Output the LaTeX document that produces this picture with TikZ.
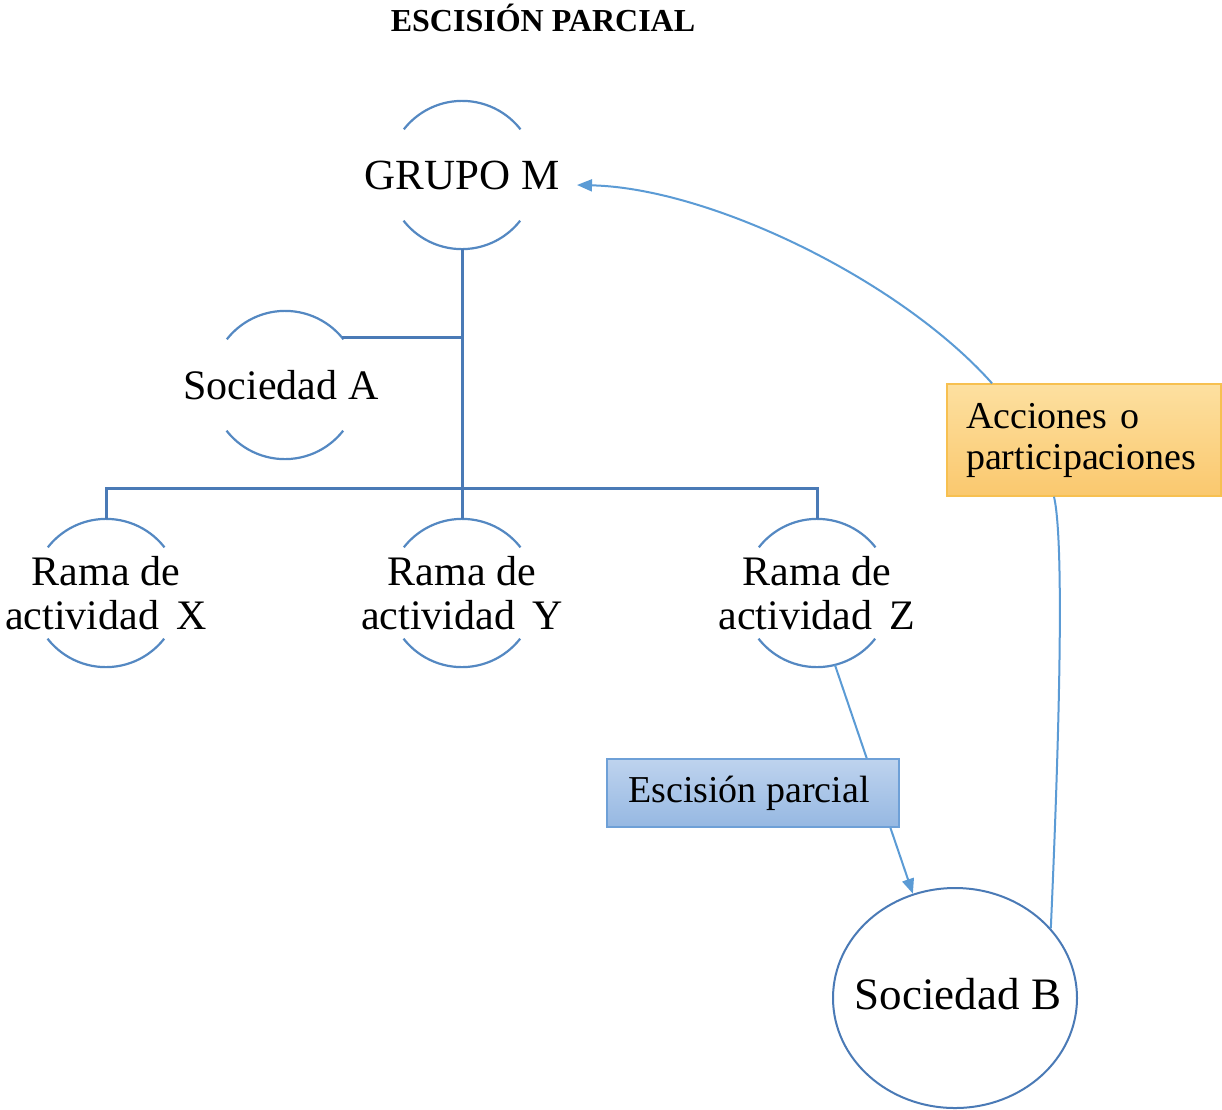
\documentclass[tikz,border=0pt]{standalone}
\usepackage{fontspec}
\setmainfont{Liberation Serif}
\usetikzlibrary{arrows.meta,shapes.geometric}
\definecolor{treecol}{RGB}{74,122,182}
\definecolor{arccol}{RGB}{84,136,194}
\definecolor{arrcol}{RGB}{91,155,213}
\definecolor{bluetop}{RGB}{190,211,238}
\definecolor{bluebot}{RGB}{150,184,226}
\definecolor{blueedge}{RGB}{110,160,215}
\definecolor{ortop}{RGB}{253,224,160}
\definecolor{orbot}{RGB}{250,200,110}
\definecolor{oredge}{RGB}{247,192,80}
\begin{document}
\begin{tikzpicture}[x=1pt,y=-1pt,
  circ/.style={circle,minimum size=148pt,inner sep=0pt,draw=none},
  txt/.style={font=\fontsize{42}{44}\selectfont,align=center,inner sep=0pt},
  arcline/.style={draw=arccol,line width=2.2pt},
  treeline/.style={draw=treecol,line width=3pt},
  arr/.style={draw=arrcol,line width=2pt,-{Triangle[length=15pt,width=12pt]}},
  conn/.style={draw=arrcol,line width=2pt}]
\useasboundingbox[fill=white] (0,0) rectangle (1222,1109);
\node[font=\bfseries\fontsize{32}{34}\selectfont] (title) at (543,18) {ESCISIÓN PARCIAL};

% circles (open arcs)
\node[circ] (gm) at (462,175) {};
\node[txt,font=\fontsize{43}{45}\selectfont] (gmt) at (gm) {GRUPO M};
\node[circ] (sa) at (285,385) {};
\node[txt] (sat) at ([xshift=-4pt]sa.center) {Sociedad A};
\node[circ] (rx) at (106,593) {};
\node[txt] (rxt) at (rx) {Rama de\\actividad\ \,X};
\node[circ] (ry) at (462,593) {};
\node[txt] (ryt) at (ry) {Rama de\\actividad\ \,Y};
\node[circ] (rz) at (817,593) {};
\node[txt] (rzt) at (rz) {Rama de\\actividad\ \,Z};

\foreach \n in {gm,sa,rx,ry,rz}{
  \draw[arcline] (\n.38) arc[start angle=38,end angle=142,radius=74pt];
  \draw[arcline] (\n.218) arc[start angle=218,end angle=322,radius=74pt];
}

% tree
\coordinate (j2) at (462,488);
\draw[treeline] (gm.south) -- (ry.north);
\draw[treeline] (sa.40) -- (sa.40 -| gm.south);
\draw[treeline] (rx.north) |- (j2) -| (rz.north);

% Sociedad B
\node[ellipse,draw=treecol,line width=2pt,minimum width=244pt,minimum height=220pt,inner sep=0pt] (sb) at (955,998) {};
\node[txt,font=\fontsize{45}{47}\selectfont] (sbt) at ([xshift=3pt,yshift=4pt]sb.center) {Sociedad B};

% arrow behind the box
\draw[arr] (rz.-76) -- (sb.112);

% boxes
\node[draw=blueedge,line width=1.4pt,top color=bluetop,bottom color=bluebot,
  minimum width=292pt,minimum height=68pt,inner sep=0pt,
  font=\fontsize{38}{40}\selectfont] (es) at (753,793) {\hspace*{-8pt}Escisión parcial};
\node[draw=oredge,line width=1.4pt,top color=ortop,bottom color=orbot,
  text width=236pt,inner xsep=19pt,minimum height=112pt,align=left,
  font=\fontsize{38}{41}\selectfont] (ac) at (1084,440) {Acciones o\\participaciones};

% connectors
\coordinate (gmin) at (577,185);
\draw[arr] ([xshift=-92pt]ac.north) .. controls (900,280) and (710,188) .. (gmin);
\draw[conn] (sb.36) .. controls (1060,720) and (1064,540) .. ([xshift=-30pt]ac.south);
\end{tikzpicture}
\end{document}
